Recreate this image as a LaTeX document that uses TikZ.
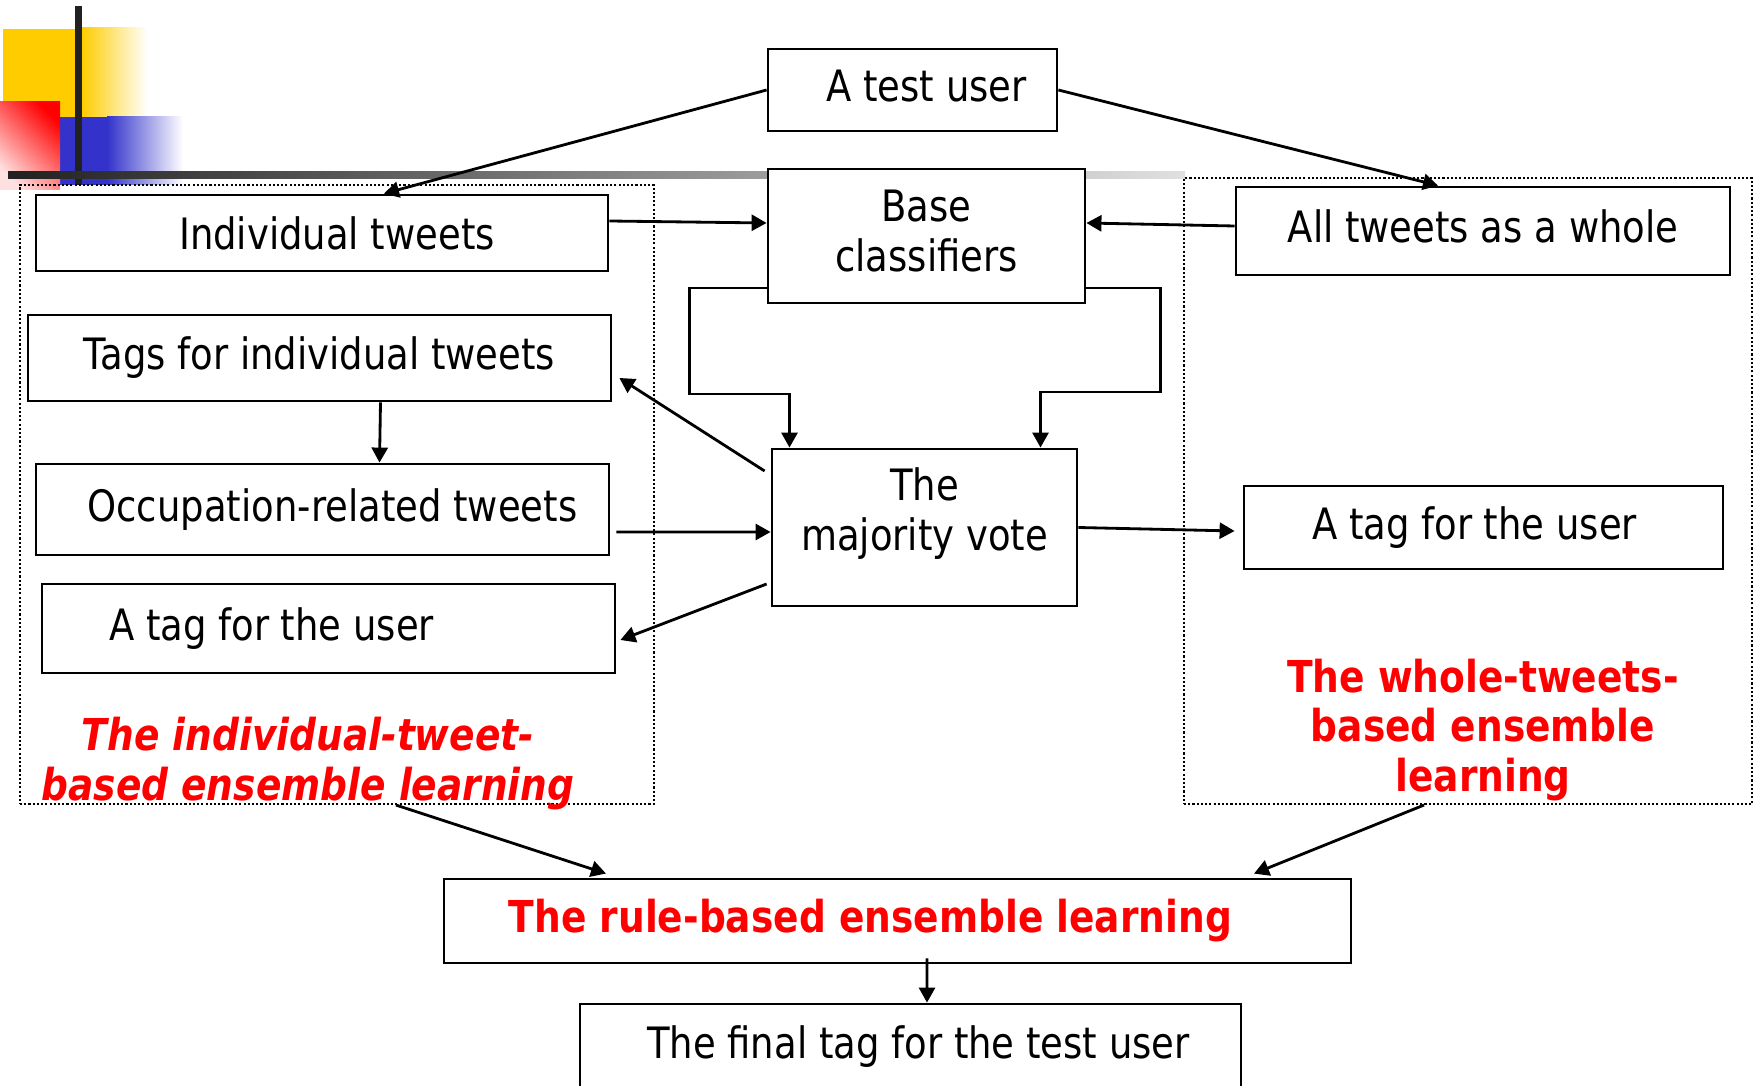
\documentclass[tikz,border=0pt]{standalone}
\usepackage{fontspec}
\setmainfont{DejaVu Sans}[FakeStretch=0.855]
\usetikzlibrary{arrows.meta}
\definecolor{ornyellow}{RGB}{255,204,0}
\definecolor{ornblue}{RGB}{51,51,204}

\begin{document}
\begin{tikzpicture}[
  font=\fontsize{12.3}{14.2}\selectfont,
  box/.style={draw, fill=white, line width=0.8pt, align=center, inner sep=2pt},
  region/.style={draw, line width=0.6pt, dash pattern=on 0.6pt off 0.6pt, inner sep=0pt},
  redlbl/.style={text=red, font=\fontsize{12.5}{14.2}\selectfont\bfseries, align=center, inner sep=0pt},
  fl/.style={-{Triangle[length=1.5mm, width=1.6mm]}, line width=0.8pt},
]
\useasboundingbox (0,0) rectangle (17.56,10.85);

% corner ornament
\fill[ornyellow] (0.03,10.56) rectangle (0.82,9.68);
\shade[left color=ornyellow, right color=white] (0.82,10.57) rectangle (1.47,9.68);
\fill[ornblue] (0.60,9.68) rectangle (1.07,9.00);
\shade[left color=ornblue, right color=white] (1.07,9.68) rectangle (1.83,9.00);
\shade[left color=red!12, right color=red, shading angle=135] (0,9.83) rectangle (0.60,8.95);
\fill[black!87] (0.75,10.79) rectangle (0.82,9.00);
\shade[left color=black!87, right color=black!12] (0.08,9.13) rectangle (11.85,9.06);

% dotted groups
\node[region, minimum width=6.34cm, minimum height=6.19cm] (indivgrp) at (3.37,5.905) {};
\node[region, minimum width=5.68cm, minimum height=6.26cm] (wholegrp) at (14.68,5.94) {};
\node[redlbl, font=\fontsize{12.5}{14.2}\selectfont\bfseries\itshape] (indivlbl) at (3.08,3.215) {The individual-tweet-\\based ensemble learning};
\node[redlbl] (wholelbl) at (14.83,3.55) {The whole-tweets-\\based ensemble\\learning};

% boxes
\node[box, minimum width=2.89cm, minimum height=0.82cm] (user)  at (9.125,9.95)  {\hspace*{0.28cm}A test user\rule[-0.08cm]{0pt}{0pt}};
\node[box, minimum width=5.72cm, minimum height=0.76cm] (indiv) at (3.22,8.52)   {\hspace*{0.30cm}Individual tweets};
\node[box, minimum width=3.17cm, minimum height=1.34cm] (base)  at (9.265,8.49)  {Base\\classifiers\rule[-0.11cm]{0pt}{0pt}};
\node[box, minimum width=4.94cm, minimum height=0.88cm] (whole) at (14.83,8.54)  {All tweets as a whole\rule[-0.1cm]{0pt}{0pt}};
\node[box, minimum width=5.83cm, minimum height=0.86cm] (tags)  at (3.195,7.27)  {Tags for individual tweets};
\node[box, minimum width=5.73cm, minimum height=0.91cm] (occ)   at (3.225,5.755) {\hspace*{0.2cm}Occupation-related tweets};
\node[box, minimum width=3.05cm, minimum height=1.57cm] (vote)  at (9.245,5.575) {The\\majority vote\rule[-0.36cm]{0pt}{0pt}};
\node[box, minimum width=5.73cm, minimum height=0.89cm] (tagL)  at (3.285,4.565) {A tag for the user\hspace*{1.14cm}};
\node[box, minimum width=4.79cm, minimum height=0.83cm] (tagR)  at (14.835,5.575) {A tag for the user\hspace*{0.18cm}};
\node[box, minimum width=9.07cm, minimum height=0.84cm, text=red, font=\fontsize{12.5}{14.2}\selectfont\bfseries] (rule) at (8.975,1.64) {The rule-based ensemble learning\hspace*{0.54cm}};
\node[box, minimum width=6.61cm, minimum height=0.86cm] (final) at (9.105,0.38)  {\hspace*{0.16cm}The final tag for the test user};

% connectors
\draw[fl] (user.west) -- ([xshift=6.2mm]indiv.north);
\draw[fl] (user.east) -- ([xshift=-4.5mm]whole.north);
\draw[fl] ([yshift=1.2mm]indiv.east) -- ([yshift=1.3mm]base.west);
\draw[fl] ([yshift=0.5mm]whole.west) -- ([yshift=1.3mm]base.east);
\draw[fl] ([yshift=-5.2mm]base.west) -| ++(-0.77,-1.06) -| ([xshift=-13.5mm]vote.north);
\draw[fl] ([yshift=-5.2mm]base.east) -| ++(0.74,-1.04) -| ([xshift=11.6mm]vote.north);
\draw[fl] ([xshift=6.1mm]tags.south) -- ([xshift=5.7mm]occ.north);
\draw[fl] ([xshift=-0.6mm,yshift=5.65mm]vote.west) -- ([xshift=0.7mm,yshift=-2mm]tags.east);
\draw[fl] ([xshift=0.6mm,yshift=-2.25mm]occ.east) -- ([yshift=-0.45mm]vote.west);
\draw[fl] ([xshift=-0.4mm,yshift=-5.65mm]vote.west) -- ([xshift=0.4mm,yshift=-1.15mm]tagL.east);
\draw[fl] (vote.east) -- ([xshift=-0.8mm,yshift=-0.35mm]tagR.west);
\draw[fl] ([xshift=5.9mm]indivgrp.south) -- ([xshift=-29.15mm,yshift=0.4mm]rule.north);
\draw[fl] ([xshift=-4.4mm]wholegrp.south) -- ([xshift=35.65mm,yshift=0.4mm]rule.north);
\draw[fl] ([xshift=2.95mm,yshift=0.6mm]rule.south) -- ([xshift=1.65mm]final.north);
\end{tikzpicture}
\end{document}
